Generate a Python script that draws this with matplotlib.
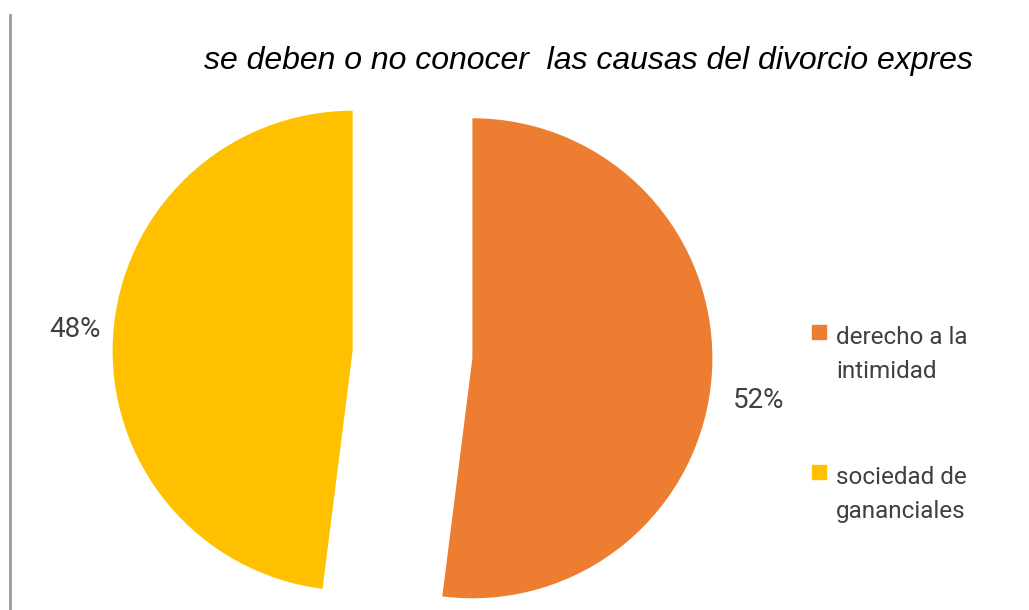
import matplotlib.pyplot as plt
from matplotlib.patches import Rectangle
from matplotlib.lines import Line2D

# data
labels = ['derecho a la\nintimidad', 'sociedad de\ngananciales']
values = [52, 48]
colors = ['#ED7D31', '#FFC000']
title = 'se deben o no conocer  las causas del divorcio expres'

fig = plt.figure(figsize=(10.29, 6.10), dpi=100)
ax = fig.add_axes([0, 0, 1, 1])

wedges, texts, autotexts = ax.pie(
    values, colors=colors, startangle=90, counterclock=False,
    explode=[0.25, 0.25], autopct='%1.0f%%', pctdistance=1.17,
    textprops=dict(family='Roboto', fontsize=20, color='#404040'))

# small nudges so the % labels sit where the original has them
nudge = [(0.025, -0.104), (0.012, 0.017)]
for t, (dx, dy) in zip(autotexts, nudge):
    x, y = t.get_position()
    t.set_position((x + dx, y + dy))

# 1 data unit = 240 px, pie centre at px (412.5, 354.5)
ax.set_xlim(-412.5 / 240, (1029 - 412.5) / 240)
ax.set_ylim(-(610 - 354.5) / 240, 354.5 / 240)
ax.set_aspect('equal')
ax.axis('off')

fig.text(588 / 1029, 1 - 61 / 610, title, ha='center', va='center',
         family='Liberation Sans', style='italic', fontsize=23, color='black')

# legend drawn by hand
leg_y = [332, 472]
for lab, col, y in zip(labels, colors, leg_y):
    fig.patches.append(Rectangle((812 / 1029, 1 - (y + 7) / 610), 14 / 1029, 14 / 610,
                                 transform=fig.transFigure, color=col))
    fig.text(836 / 1029, 1 - (y - 6) / 610, lab, ha='left', va='top',
             family='Roboto', fontsize=17.5, color='#404040', linespacing=1.6)

# left grey border line
fig.add_artist(Line2D([10 / 1029, 10 / 1029], [0, 1 - 15 / 610],
                      transform=fig.transFigure, color='#9a9a9a', lw=2))

fig.savefig('out.png', dpi=100)
